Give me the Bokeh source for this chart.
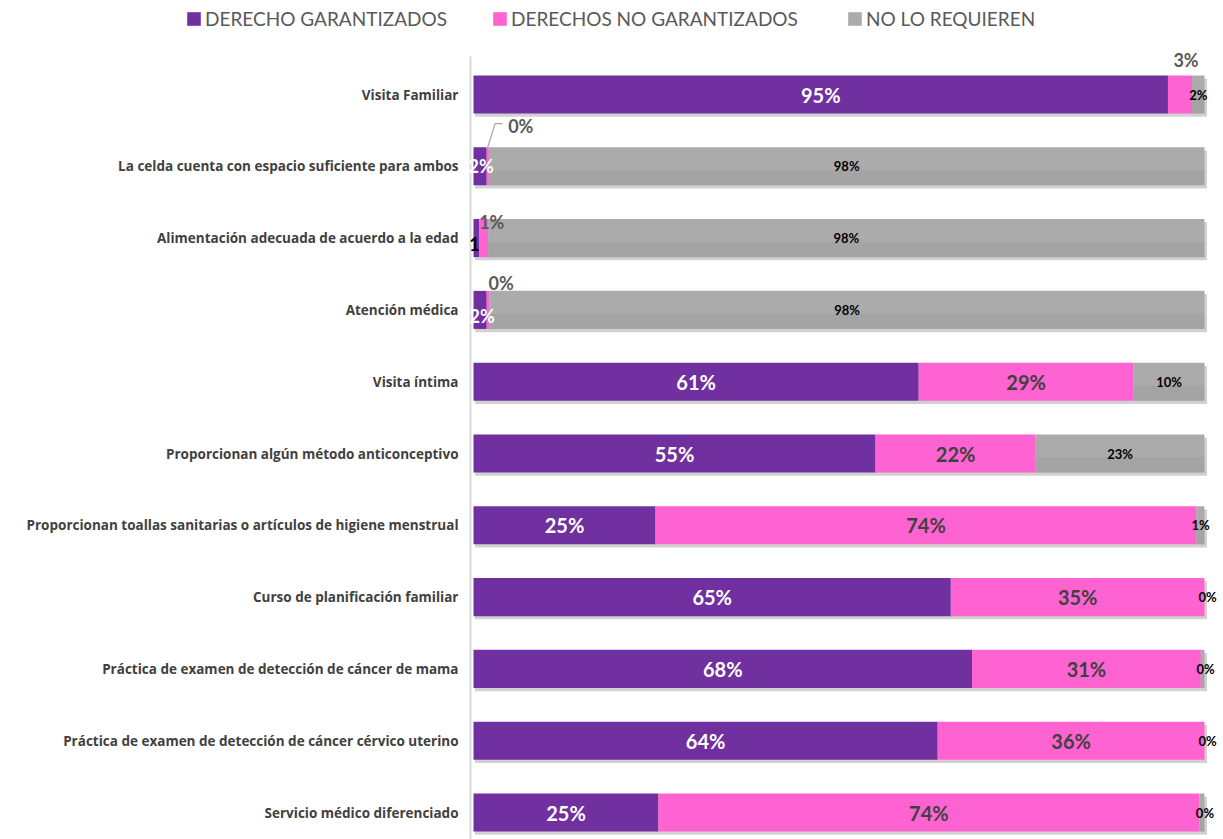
import numpy as np
from bokeh.plotting import figure
from bokeh.models import Range1d, Legend, LegendItem, ColumnDataSource
from bokeh.core.properties import value
from bokeh.embed import file_html
from bokeh.resources import INLINE

# ---------------- data ----------------
categories = [
    "Visita Familiar",
    "La celda cuenta con espacio suficiente para ambos",
    "Alimentación adecuada de acuerdo a la edad",
    "Atención médica",
    "Visita íntima",
    "Proporcionan algún método anticonceptivo",
    "Proporcionan toallas sanitarias o artículos de higiene menstrual",
    "Curso de planificación familiar",
    "Práctica de examen de detección de cáncer de mama",
    "Práctica de examen de detección de cáncer cérvico uterino",
    "Servicio médico diferenciado",
]
garantizados = [95.0, 1.8, 0.8, 1.8, 60.9, 55.0, 24.9, 65.3, 68.2, 63.5, 25.3]
no_garantizados = [3.3, 0.3, 1.2, 0.4, 29.4, 21.9, 74.0, 34.7, 31.3, 36.5, 74.0]
no_requieren = [1.7, 97.9, 98.0, 97.8, 9.7, 23.1, 1.1, 0.0, 0.5, 0.0, 0.7]

lab_garantizados = ["95%", "2%", "1", "2%", "61%", "55%", "25%", "65%", "68%", "64%", "25%"]
lab_no_garantizados = ["3%", "0%", "1%", "0%", "29%", "22%", "74%", "35%", "31%", "36%", "74%"]
lab_no_requieren = ["2%", "98%", "98%", "98%", "10%", "23%", "1%", "0%", "0%", "0%", "0%"]

series_names = ["DERECHO GARANTIZADOS", "DERECHOS NO GARANTIZADOS", "NO LO REQUIEREN"]

# ---------------- style ----------------
C_PURPLE = "#7030A0"
C_PINK = "#FF63D1"
C_GRAY = "#ABABAB"
FONT = "Lato"
CAT_FONT = "Open Sans"
BAR_H = 0.53
W, H = 1223, 839
X0_PX, X100_PX = 473, 1204      # pixel where 0 % and 100 % fall
ROW0_PX, ROW_STEP = 94, 71.8     # pixel centre of first row, row spacing

n = len(categories)
ys = np.arange(n)
g = np.array(garantizados)
ng = np.array(no_garantizados)
nr = np.array(no_requieren)
left_ng = g
left_nr = g + ng
total = g + ng + nr

kx = (X100_PX - X0_PX) / 100.0
x_start = -X0_PX / kx
x_end = (W - X0_PX) / kx
y_top = -ROW0_PX / ROW_STEP
y_bot = (H - ROW0_PX) / ROW_STEP

p = figure(width=W, height=H, output_backend="svg", toolbar_location=None,
           x_range=Range1d(x_start, x_end), y_range=Range1d(y_bot, y_top),
           min_border=0)
p.outline_line_color = None
p.xgrid.visible = False
p.ygrid.visible = False
p.xaxis.visible = False
p.yaxis.visible = False
p.background_fill_color = "white"
p.border_fill_color = "white"

# vertical category axis line
axis_x = -3 / kx
p.segment(x0=[axis_x], y0=[-0.53], x1=[axis_x], y1=[y_bot], line_color="#D9D9D9", line_width=2)

# shadows
p.hbar(y=ys + 0.045, left=0.2, right=total + 0.35, height=BAR_H,
       fill_color="black", fill_alpha=0.18, line_color=None)

r1 = p.hbar(y=ys, left=0, right=g, height=BAR_H, fill_color=C_PURPLE, line_color=None)
r2 = p.hbar(y=ys, left=left_ng, right=left_ng + ng, height=BAR_H, fill_color=C_PINK, line_color=None)
r3 = p.hbar(y=ys, left=left_nr, right=left_nr + nr, height=BAR_H, fill_color=C_GRAY, line_color=None)
# subtle gradient on gray (darker lower part)
p.hbar(y=ys + BAR_H * 0.3, left=left_nr, right=left_nr + nr, height=BAR_H * 0.4,
       fill_color="#999999", fill_alpha=0.35, line_color=None)

# category labels
cat_x = [-15 / kx] * n
p.text(x=cat_x, y=list(ys), text=categories,
       text_font=value(CAT_FONT), text_font_style="bold", text_font_size="13.5px",
       text_color="#404040", text_align="right", text_baseline="middle")

# ---------------- bar labels ----------------
def add_labels(xs, yv, texts, color, size, xo=0, yo=0, align="center"):
    m = len(texts)
    src = ColumnDataSource(dict(x=list(xs), y=list(yv), t=list(texts),
                                xo=list(xo) if hasattr(xo, "__len__") else [xo] * m,
                                yo=list(yo) if hasattr(yo, "__len__") else [yo] * m))
    p.text(x="x", y="y", text="t", x_offset="xo", y_offset="yo", source=src,
           text_font=value(FONT), text_font_style="bold", text_font_size=size,
           text_color=color, text_align=align, text_baseline="middle")

big = [i for i in range(n) if g[i] >= 5]
add_labels(g[big] / 2, ys[big], [lab_garantizados[i] for i in big], "white", "20px")
big = [i for i in range(n) if ng[i] >= 5]
add_labels(left_ng[big] + ng[big] / 2, ys[big], [lab_no_garantizados[i] for i in big], "#404040", "20px")
big = [i for i in range(n) if nr[i] >= 5]
add_labels(left_nr[big] + nr[big] / 2, ys[big], [lab_no_requieren[i] for i in big], "black", "13px")

# small gray segments at right end
sm = [0, 6, 7, 8, 9, 10]
add_labels(left_nr[sm] + nr[sm] / 2, ys[sm], [lab_no_requieren[i] for i in sm], "black", "13px",
           xo=[0, 0, 3, 3, 3, 3])

# small purple segments
add_labels([g[1] / 2, g[3] / 2], [1, 3], [lab_garantizados[1], lab_garantizados[3]], "white", "18px",
           xo=[1, 2], yo=[0, 6])
add_labels([g[2] / 2], [2], [lab_garantizados[2]], "black", "18px", xo=[-2], yo=[6])

# small pink segments, above the bars
add_labels([left_ng[0] + ng[0] / 2], [0], [lab_no_garantizados[0]], "#595959", "18px", xo=[6], yo=[-35])
add_labels([left_ng[2] + ng[2] / 2], [2], [lab_no_garantizados[2]], "#595959", "18px", xo=[8], yo=[-16])
add_labels([left_ng[3] + ng[3] / 2], [3], [lab_no_garantizados[3]], "#595959", "18px", xo=[13], yo=[-27])
add_labels([left_ng[1] + ng[1] / 2], [1], [lab_no_garantizados[1]], "#595959", "18px",
           xo=[33], yo=[-40])
# leader line
x0 = left_ng[1] + ng[1] / 2
y0 = 1 - BAR_H / 2
p.line(x=[x0, x0 + 1.0, x0 + 2.0], y=[y0, y0 - 0.33, y0 - 0.33], line_color="#A6A6A6", line_width=1.2)

# ---------------- legend ----------------
leg_x = [185, 491, 846]
for r, name, lx in zip([r1, r2, r3], series_names, leg_x):
    lg = Legend(items=[LegendItem(label=name, renderers=[r])], location=(lx, H - 30),
                orientation="horizontal", border_line_color=None, background_fill_alpha=0,
                padding=0, margin=0, glyph_width=17, glyph_height=17, label_standoff=3,
                label_text_font=FONT, label_text_font_size="19px", label_text_color="#595959")
    p.add_layout(lg)

open("out.html", "w").write(file_html(p, INLINE))
